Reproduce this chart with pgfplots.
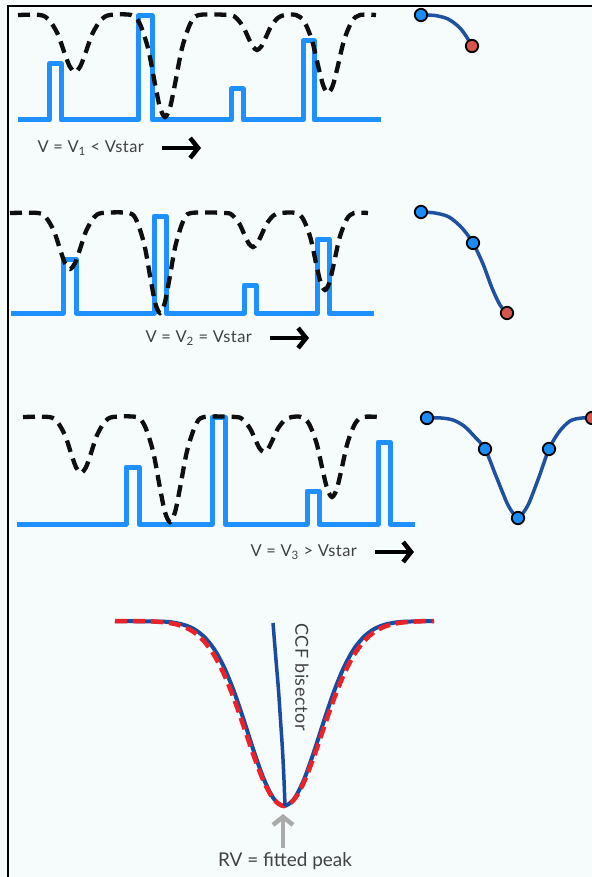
\documentclass[border=0pt]{standalone}
\usepackage{pgfplots}
\pgfplotsset{compat=1.18}
\usetikzlibrary{arrows.meta}
\usepackage{fontspec}
\setmainfont{Lato}
\newfontfamily\labfont{Lato}[LetterSpace=3]
\definecolor{bg}{RGB}{246,251,251}
\definecolor{mask}{RGB}{30,144,255}
\definecolor{spec}{RGB}{15,15,15}
\definecolor{bis}{RGB}{30,82,160}
\definecolor{dotb}{RGB}{25,140,250}
\definecolor{dotr}{RGB}{215,85,75}
\definecolor{ccf}{RGB}{25,75,160}
\definecolor{fit}{RGB}{235,35,40}
\definecolor{garrow}{RGB}{170,170,170}
\definecolor{txt}{RGB}{65,65,65}
\begin{document}
\begin{tikzpicture}
\begin{axis}[hide axis, scale only axis, width=592bp, height=877bp,
  xmin=0, xmax=592, ymin=0, ymax=877, y dir=reverse, clip marker paths=true]
% background
\addplot[fill=bg, draw=none] coordinates {(0,0)(592,0)(592,877)(0,877)(0,0)};
% border
\addplot[black, line width=2.2bp] coordinates {(8,880)(8,6)(595,6)};

% ---------- panel 1 ----------
\addplot[mask, line width=5bp, line join=round] coordinates {
(18,120)(49,120)(49,64)(61,64)(61,120)(138,120)(138,16)(152,16)(152,120)(231,120)(231,89)(243,89)(243,120)(303,120)(303,41)(314,41)(314,120)(381,120)};
\addplot[spec, line width=4.3bp, dash pattern=on 12bp off 7bp, smooth] coordinates {
(18,15)(40,15)(48.75,19.6)(57.5,33.5)(64.5,53)(69.75,66.5)(75,72)(80.25,66.5)(85.5,53)(92.5,33.5)(101.25,19.6)(110,15)
(131,15)(139.5,23.2)(148,48.2)(154.8,83)(159.9,107.2)(165,117)(170.1,107.2)(175.2,83)(182,48.2)(190.5,23.2)(199,15)
(229,15)(236,17.8)(243,26.4)(248.6,38.3)(252.8,46.6)(257,50)(261.2,46.6)(265.4,38.3)(271,26.4)(278,17.8)(285,15)
(296,15)(304,21.2)(312,40.4)(318.4,67)(323.2,85.5)(328,93)(332.8,85.5)(337.6,67)(344,40.4)(352,21.2)(360,15)(376,15)};
\addplot[bis, line width=3.5bp, smooth] coordinates {(421,15)(435,15.5)(448,19)(459,27)(466,36)(472,46)};
\addplot[only marks, mark=*, mark size=6.2bp, mark options={fill=dotb, draw=black, line width=1.8bp}] coordinates {(421,15)};
\addplot[only marks, mark=*, mark size=6.2bp, mark options={fill=dotr, draw=black, line width=1.8bp}] coordinates {(472,46)};
\node[anchor=west, text=txt, font=\labfont\fontsize{16.5}{16}\selectfont] at (axis cs:34,148) {V = V\textsubscript{1} < Vstar};
\addplot[black, line width=4.5bp, -{Straight Barb[length=8bp,width=20bp]}] coordinates {(162,148)(201,148)};

% ---------- panel 2 ----------
\addplot[mask, line width=5bp, line join=round] coordinates {
(11,313)(63,313)(63,259)(76,259)(76,313)(154,313)(154,216)(166,216)(166,313)(244,313)(244,285)(256,285)(256,313)(317,313)(317,239)(329,239)(329,313)(374,313)};
\addplot[spec, line width=4.3bp, dash pattern=on 12bp off 7bp, smooth] coordinates {
(10,213)(38,213)(46,217.5)(54,231.2)(60.4,250.4)(65.2,263.6)(70,269)(74.8,263.6)(79.6,250.4)(86,231.2)(94,217.5)(102,213)
(129,213)(136.75,221)(144.5,245.5)(150.7,279.7)(155.35,303.4)(160,313)(164.65,303.4)(169.3,279.7)(175.5,245.5)(183.25,221)(191,213)
(226,213)(232.75,215.7)(239.5,224)(244.9,235.7)(248.95,243.7)(253,247)(257.05,243.7)(261.1,235.7)(266.5,224)(273.25,215.7)(280,213)
(296,213)(303.25,219.2)(310.5,238)(316.3,264.4)(320.65,282.6)(325,290)(329.35,282.6)(333.7,264.4)(339.5,238)(346.75,219.2)(354,213)(368,213)};
\addplot[bis, line width=3.5bp, smooth] coordinates {(421,212)(435,213)(449,217)(462,228)(473,243)(483,264)(492,288)(500,305)(507,313)};
\addplot[only marks, mark=*, mark size=6.2bp, mark options={fill=dotb, draw=black, line width=1.8bp}] coordinates {(421,212)(473,243)};
\addplot[only marks, mark=*, mark size=6.2bp, mark options={fill=dotr, draw=black, line width=1.8bp}] coordinates {(507,313)};
\node[anchor=west, text=txt, font=\labfont\fontsize{16.5}{16}\selectfont] at (axis cs:142,338) {V = V\textsubscript{2} = Vstar};
\addplot[black, line width=4.5bp, -{Straight Barb[length=8bp,width=20bp]}] coordinates {(270,338)(309,338)};

% ---------- panel 3 ----------
\addplot[mask, line width=5bp, line join=round] coordinates {
(17,524)(126,524)(126,467)(139,467)(139,524)(212,524)(212,417)(225,417)(225,524)(307,524)(307,491)(319,491)(319,524)(378,524)(378,442)(390,442)(390,524)(415,524)};
\addplot[spec, line width=4.3bp, dash pattern=on 12bp off 7bp, smooth] coordinates {
(23,417)(49,417)(57,421.5)(65,435.2)(71.4,454.4)(76.2,467.6)(81,473)(85.8,467.6)(90.6,454.4)(97,435.2)(105,421.5)(113,417)
(136,417)(144.5,425.4)(153,451.1)(159.8,487)(164.9,511.9)(170,522)(175.1,511.9)(180.2,487)(187,451.1)(195.5,425.4)(204,417)
(236,417)(243,419.8)(250,428.4)(255.6,440.3)(259.8,448.6)(264,452)(268.2,448.6)(272.4,440.3)(278,428.4)(285,419.8)(292,417)
(301,417)(308.75,423.4)(316.5,443)(322.7,470.4)(327.35,489.3)(332,497)(336.65,489.3)(341.3,470.4)(347.5,443)(355.25,423.4)(363,417)(379,417)};
\addplot[bis, line width=3.5bp, smooth] coordinates {(427,418)(441,418)(453,420)(464,426)(474,436)(485,449)(496,476)(507,503)(513,513)(518,518)(523,513)(529,503)(539,477)(549,449)(559,432)(570,421)(582,418)(600,418)};
\addplot[only marks, mark=*, mark size=6.2bp, mark options={fill=dotb, draw=black, line width=1.8bp}] coordinates {(427,418)(485,449)(518,518)(549,449)};
\addplot[only marks, mark=*, mark size=6.2bp, mark options={fill=dotr, draw=black, line width=1.8bp}] coordinates {(592,418)};
\node[anchor=west, text=txt, font=\labfont\fontsize{16.5}{16}\selectfont] at (axis cs:247,552) {V = V\textsubscript{3} > Vstar};
\addplot[black, line width=4.5bp, -{Straight Barb[length=8bp,width=20bp]}] coordinates {(375,552)(414,552)};

% ---------- panel 4 : CCF ----------
\addplot[ccf, line width=4bp, smooth] coordinates {
(115,621)(164,621.7)(174,622.7)(184,624.9)(194,629.1)(204,636.7)(214,648.9)(224,667.1)(234,691.5)(244,720.8)(254,751.7)(264,779.5)(274,799)(284,806)
(294,799)(304,779.5)(314,751.7)(324,720.8)(334,691.5)(344,667.1)(354,648.9)(364,636.7)(374,629.1)(384,624.9)(394,622.7)(404,621.7)(434,621)};
\addplot[fit, line width=4.5bp, dash pattern=on 12bp off 6bp, smooth] coordinates {
(115,621)(149,621.3)(164,622.3)(174,623.8)(184,626.8)(194,632.2)(204,641.2)(214,654.9)(224,674.2)(234,698.8)(244,727.3)(254,756.5)(264,782.1)(274,799.7)(284,806)
(294,799.7)(304,782.1)(314,756.5)(324,727.3)(334,698.8)(344,674.2)(354,654.9)(364,641.2)(374,632.2)(384,626.8)(394,623.8)(404,622.3)(419,621.3)(434,621)};
\addplot[ccf, line width=3.5bp, smooth] coordinates {(285,806)(284,780)(282.5,750)(280.5,720)(278.5,690)(276,660)(273,623)};
\node[rotate=-90, text=txt, font=\labfont\fontsize{18}{18}\selectfont] at (axis cs:302,677) {CCF\ bisector};
\addplot[garrow, line width=4.5bp, -{Straight Barb[length=8bp,width=20bp]}] coordinates {(283,848)(283,814)};
\node[text=txt, font=\fontsize{19}{19}\selectfont] at (axis cs:285,861) {RV = fitted peak};
\end{axis}
\end{tikzpicture}
\end{document}
